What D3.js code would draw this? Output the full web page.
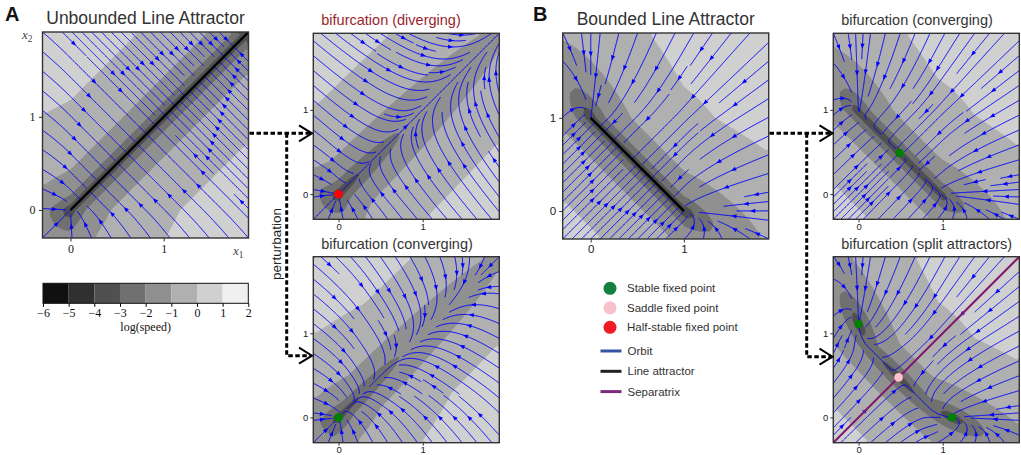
<!DOCTYPE html>
<html lang="en">
<head>
<meta charset="UTF-8">
<title>Line attractors</title>
<script src="https://d3js.org/d3.v7.min.js"></script>
<style>
  body { margin: 0; background: #fff; }
  svg { display: block; }
</style>
</head>
<body>
<div id="wrapper"></div>
<script>
// ---------------- data ----------------
const levels = [-6, -5, -4, -3, -2, -1, 0, 1, 2];
const levelColors = ["#101010", "#303030", "#505050", "#707070", "#909090", "#b0b0b0", "#d0d0d0", "#f0f0f0"];
const axisTicks = [0, 1];
const domain = [-0.3, 1.91];
const timeScale = 0.6;
const logFloor = -3.4;   // coarse grid never resolves the attractor itself

// relu network dx/dt = timeScale * (-x + relu(W x + b))
const wUnbounded = [[0, 1], [1, 0]];
const wDiverging = [[0.22, 1], [1, 0.22]];
const wConvergingA = [[-0.22, 1], [1, -0.22]];
const bZero = [0, 0];
const wBounded = [[0, -1], [-1, 0]];
const wConvergingB = [[-0.05, -1], [-1, -0.05]];
const wSplit = [[0.1, -1.2], [-1.2, 0.1]];
const bOne = [1, 1];

const lineUnbounded = [[0, 0], [1.91, 1.91]];
const lineBounded = [[0, 1], [1, 0]];
const separatrix = [[-0.3, -0.3], [1.91, 1.91]];
const halfStableDiv = [[0, 0]];
const stableConvA = [[0, 0]];
const stableConvB = [[0.488, 0.488]];
const stableSplit = [[0, 1.111], [1.111, 0]];
const saddleSplit = [[0.476, 0.476]];

const legendPoints = [
  { label: "Stable fixed point", color: "#13803f" },
  { label: "Saddle fixed point", color: "#f7c1cb" },
  { label: "Half-stable fixed point", color: "#ee1c25" }
];
const legendLines = [
  { label: "Orbit", color: "#3953a4" },
  { label: "Line attractor", color: "#231f20" },
  { label: "Separatrix", color: "#7b2a7a" }
];

const SANS = "'Liberation Sans', Arial, sans-serif";
const SERIF = "'Liberation Serif', 'DejaVu Serif', serif";

// ---------------- helpers ----------------
const relu = v => Math.max(0, v);
function rnn(W, b) {
  return (x, y) => [
    timeScale * (-x + relu(W[0][0] * x + W[0][1] * y + b[0])),
    timeScale * (-y + relu(W[1][0] * x + W[1][1] * y + b[1]))
  ];
}

// starting points, spiralling in from the border (like matplotlib streamplot)
function spiral(N) {
  const out = [];
  let xfirst = 0, yfirst = 1, xlast = N - 1, ylast = N - 1, x = 0, y = 0, dir = 0;
  for (let i = 0; i < N * N; i++) {
    out.push([x, y]);
    if (dir === 0) { x++; if (x >= xlast) { xlast--; dir = 1; } }
    else if (dir === 1) { y++; if (y >= ylast) { ylast--; dir = 2; } }
    else if (dir === 2) { x--; if (x <= xfirst) { xfirst++; dir = 3; } }
    else { y--; if (y <= yfirst) { yfirst++; dir = 0; } }
  }
  return out;
}

function streamlines(field, density) {
  const N = Math.round(30 * density);
  const mask = new Uint8Array(N * N);
  const span = domain[1] - domain[0];
  let traj = [], cur = -1;
  const cell = (ax, ay) => Math.round(ay * (N - 1)) * N + Math.round(ax * (N - 1));
  function visit(ax, ay) {
    const k = cell(ax, ay);
    if (k === cur) return true;
    if (mask[k]) return false;
    mask[k] = 1; traj.push(k); cur = k;
    return true;
  }
  function dir(ax, ay, sgn) {
    const f = field(domain[0] + ax * span, domain[0] + ay * span);
    const s = Math.hypot(f[0], f[1]);
    if (s < 1e-10) return null;
    return [sgn * f[0] / s, sgn * f[1] / s];
  }
  const h = 0.004, maxLen = 4, minLen = 0.1;
  function trace(ax, ay, sgn) {
    const pts = [[ax, ay]];
    let len = 0;
    while (len < maxLen) {
      const k1 = dir(ax, ay, sgn);
      if (!k1) break;
      const mx = ax + 0.5 * h * k1[0], my = ay + 0.5 * h * k1[1];
      const k2 = (mx >= 0 && mx <= 1 && my >= 0 && my <= 1) ? dir(mx, my, sgn) : k1;
      if (!k2 || k1[0] * k2[0] + k1[1] * k2[1] < 0) break;
      const nx = ax + h * k2[0], ny = ay + h * k2[1];
      if (nx < 0 || nx > 1 || ny < 0 || ny > 1) {
        let t = h;
        if (nx < 0) t = Math.min(t, -ax / k2[0]);
        if (nx > 1) t = Math.min(t, (1 - ax) / k2[0]);
        if (ny < 0) t = Math.min(t, -ay / k2[1]);
        if (ny > 1) t = Math.min(t, (1 - ay) / k2[1]);
        pts.push([ax + t * k2[0], ay + t * k2[1]]);
        len += t;
        break;
      }
      if (!visit(nx, ny)) break;
      ax = nx; ay = ny;
      pts.push([ax, ay]);
      len += h;
    }
    return [len, pts];
  }
  const lines = [];
  for (const [xm, ym] of spiral(N)) {
    if (mask[ym * N + xm]) continue;
    const ax = xm / (N - 1), ay = ym / (N - 1);
    traj = []; cur = -1;
    visit(ax, ay);
    const [lb, pb] = trace(ax, ay, -1);
    cur = cell(ax, ay);
    const [lf, pf] = trace(ax, ay, 1);
    if (lb + lf > minLen) {
      lines.push(pb.reverse().concat(pf.slice(1))
        .map(p => [domain[0] + p[0] * span, domain[0] + p[1] * span]));
    } else {
      traj.forEach(k => mask[k] = 0);
    }
  }
  return lines;
}

// ---------------- figure ----------------
const svg = d3.select("#wrapper").append("svg")
  .attr("width", 1021).attr("height", 455)
  .style("font-family", SANS);

function panel(p) {
  const sx = d3.scaleLinear().domain(domain).range([p.x, p.x + p.size]);
  const sy = d3.scaleLinear().domain(domain).range([p.y + p.size, p.y]);
  svg.append("clipPath").attr("id", "clip-" + p.id)
    .append("rect").attr("x", p.x).attr("y", p.y).attr("width", p.size).attr("height", p.size);
  const g = svg.append("g");
  const inner = g.append("g").attr("clip-path", `url(#clip-${p.id})`);

  // log(speed) background
  const n = 40, step = (domain[1] - domain[0]) / n;
  const vals = new Array(n * n);
  for (let j = 0; j < n; j++) {
    for (let i = 0; i < n; i++) {
      const f = p.field(domain[0] + (i + 0.5) * step, domain[0] + (j + 0.5) * step);
      vals[j * n + i] = Math.max(logFloor, Math.log(Math.hypot(f[0], f[1])));
    }
  }
  const bands = d3.contours().size([n, n]).thresholds(levels.slice(0, -1))(vals);
  const proj = d3.geoTransform({
    point(x, y) { this.stream.point(sx(domain[0] + x * step), sy(domain[0] + y * step)); }
  });
  inner.selectAll("path.band").data(bands).join("path")
    .attr("class", "band")
    .attr("d", d3.geoPath(proj))
    .attr("fill", (d, i) => levelColors[i]);

  // streamlines
  const lines = streamlines(p.field, p.density);
  const line = d3.line().x(d => sx(d[0])).y(d => sy(d[1]));
  inner.selectAll("path.stream").data(lines).join("path")
    .attr("class", "stream")
    .attr("d", line)
    .attr("fill", "none").attr("stroke", "#0000ff").attr("stroke-width", 1);
  const arrows = [];
  lines.forEach(l => {
    if (l.length < 3) return;
    const px = l.map(d => [sx(d[0]), sy(d[1])]);
    let total = 0; const cum = [];
    for (let i = 1; i < px.length; i++) {
      total += Math.hypot(px[i][0] - px[i - 1][0], px[i][1] - px[i - 1][1]);
      cum.push(total);
    }
    const k = Math.min(d3.bisectLeft(cum, total / 2), px.length - 2);
    const a = px[k], b = px[k + 1];
    const ang = Math.atan2(b[1] - a[1], b[0] - a[0]);
    arrows.push({ x: (a[0] + b[0]) / 2, y: (a[1] + b[1]) / 2, ang: ang * 180 / Math.PI });
  });
  inner.selectAll("path.arrow").data(arrows).join("path")
    .attr("class", "arrow")
    .attr("d", "M2.6,0L-2.6,-2.1L-2.6,2.1Z")
    .attr("transform", d => `translate(${d.x},${d.y}) rotate(${d.ang})`)
    .attr("fill", "#0000ff");

  // extra lines and fixed points
  (p.lines || []).forEach(l => {
    inner.append("path").attr("d", d3.line().x(d => sx(d[0])).y(d => sy(d[1]))(l.data))
      .attr("stroke", l.color).attr("stroke-width", l.width).attr("fill", "none");
  });
  (p.points || []).forEach(pt => {
    inner.selectAll(null).data(pt.data).join("circle")
      .attr("cx", d => sx(d[0])).attr("cy", d => sy(d[1])).attr("r", 4.3)
      .attr("fill", pt.color);
  });

  g.append("rect").attr("x", p.x).attr("y", p.y).attr("width", p.size).attr("height", p.size)
    .attr("fill", "none").attr("stroke", "#333").attr("stroke-width", 1.4);

  // axes
  const fmt = d => String(d);
  const ax = g.append("g").attr("transform", `translate(0,${p.y + p.size})`)
    .call(d3.axisBottom(sx).tickValues(axisTicks).tickSize(p.tick).tickPadding(p.pad).tickFormat(fmt));
  const ay = g.append("g").attr("transform", `translate(${p.x},0)`)
    .call(d3.axisLeft(sy).tickValues(axisTicks).tickSize(p.tick).tickPadding(p.pad + 1).tickFormat(fmt));
  [ax, ay].forEach(a => {
    a.select(".domain").remove();
    a.selectAll("line").attr("stroke", "#333");
    a.selectAll("text").attr("fill", "#222")
      .style("font-family", p.serif ? SERIF : SANS)
      .style("font-size", p.tickSize + "px");
  });

  // title
  if (p.title) {
    g.append("text")
      .attr("x", p.titleAnchor === "middle" ? p.x + p.size / 2 : p.x + 8)
      .attr("y", p.y - 8)
      .attr("text-anchor", p.titleAnchor || "start")
      .attr("fill", p.titleColor || "#333")
      .style("font-size", p.titleSize + "px")
      .text(p.title);
  }
}

const panels = [
  { id: "A", x: 42.5, y: 32, size: 206, field: rnn(wUnbounded, bZero), density: 0.72,
    serif: true, tickSize: 12, tick: 3.5, pad: 2.5,
    title: "Unbounded Line Attractor", titleAnchor: "middle", titleSize: 17.5,
    lines: [{ data: lineUnbounded, color: "#000", width: 2.4 }] },
  { id: "Adiv", x: 313.3, y: 33.3, size: 186, field: rnn(wDiverging, bZero), density: 0.85,
    tickSize: 9.5, tick: 3, pad: 1,
    title: "bifurcation (diverging)", titleSize: 14.5, titleColor: "#9a1f2b",
    points: [{ data: halfStableDiv, color: "#ff0000" }] },
  { id: "Aconv", x: 313.3, y: 256.7, size: 186, field: rnn(wConvergingA, bZero), density: 0.85,
    tickSize: 9.5, tick: 3, pad: 1,
    title: "bifurcation (converging)", titleSize: 14.5,
    points: [{ data: stableConvA, color: "#008000" }] },
  { id: "B", x: 562.7, y: 33, size: 206, field: rnn(wBounded, bOne), density: 0.75,
    tickSize: 11.5, tick: 3.5, pad: 2,
    title: "Bounded Line Attractor", titleAnchor: "middle", titleSize: 17.5,
    lines: [{ data: lineBounded, color: "#000", width: 2.6 }] },
  { id: "Bconv", x: 833.3, y: 33.3, size: 186, field: rnn(wConvergingB, bOne), density: 0.85,
    tickSize: 9.5, tick: 3, pad: 1,
    title: "bifurcation (converging)", titleSize: 14.5,
    points: [{ data: stableConvB, color: "#008000" }] },
  { id: "Bsplit", x: 833.3, y: 256.7, size: 186, field: rnn(wSplit, bOne), density: 0.85,
    tickSize: 9.5, tick: 3, pad: 1,
    title: "bifurcation (split attractors)", titleSize: 14.5,
    lines: [{ data: separatrix, color: "#801a6e", width: 2 }],
    points: [{ data: stableSplit, color: "#008000" }, { data: saddleSplit, color: "#ffc0cb" }] }
];
panels.forEach(panel);

// panel letters
svg.append("text").attr("x", 5).attr("y", 21).text("A")
  .style("font-size", "20px").style("font-weight", "900").attr("fill", "#111");
svg.append("text").attr("x", 533).attr("y", 21).text("B")
  .style("font-size", "20px").style("font-weight", "900").attr("fill", "#111");

// axis variable labels of panel A
const xl = svg.append("text").attr("x", 233).attr("y", 254.5)
  .style("font-family", SERIF).style("font-size", "13px").attr("fill", "#444");
xl.append("tspan").style("font-style", "italic").text("x");
xl.append("tspan").attr("dy", 3).style("font-size", "9.5px").text("1");
const yl = svg.append("text").attr("x", 22).attr("y", 39)
  .style("font-family", SERIF).style("font-size", "13px").attr("fill", "#444");
yl.append("tspan").style("font-style", "italic").text("x");
yl.append("tspan").attr("dy", 3).style("font-size", "9.5px").text("2");

// colorbar
const cb = d3.scaleLinear().domain([levels[0], levels[levels.length - 1]]).range([43, 248.3]);
const cbg = svg.append("g");
cbg.selectAll("rect.bin").data(levelColors).join("rect")
  .attr("class", "bin")
  .attr("x", (d, i) => cb(levels[i])).attr("y", 283.3)
  .attr("width", (d, i) => cb(levels[i + 1]) - cb(levels[i])).attr("height", 20)
  .attr("fill", d => d);
cbg.append("rect").attr("x", cb(levels[0])).attr("y", 283.3)
  .attr("width", cb(levels[levels.length - 1]) - cb(levels[0])).attr("height", 20)
  .attr("fill", "none").attr("stroke", "#111").attr("stroke-width", 1);
const cbAxis = cbg.append("g").attr("transform", "translate(0,303.3)")
  .call(d3.axisBottom(cb).tickValues(levels).tickSize(3.5).tickPadding(1.5)
    .tickFormat(d => d < 0 ? "\u2212" + Math.abs(d) : String(d)));
cbAxis.select(".domain").remove();
cbAxis.selectAll("text").style("font-family", SERIF).style("font-size", "12px").attr("fill", "#111");
cbg.append("text").attr("x", (cb(levels[0]) + cb(levels[levels.length - 1])) / 2).attr("y", 331)
  .attr("text-anchor", "middle").style("font-family", SERIF).style("font-size", "12px")
  .attr("fill", "#111").text("log(speed)");

// perturbation connectors
function connector(x0, xv, xEnd, yTop, yBot) {
  const c = svg.append("g").attr("fill", "none").attr("stroke", "#000");
  c.append("path").attr("d", `M${x0},${yTop}H${xEnd - 1}M${xv},${yTop}V${yBot}H${xEnd - 1}`)
    .attr("stroke-width", 3).attr("stroke-dasharray", "4.5,2.5");
  [yTop, yBot].forEach(y => {
    c.append("path").attr("d", `M${xEnd - 13},${y - 8}L${xEnd},${y}L${xEnd - 13},${y + 8}`)
      .attr("stroke-width", 2);
  });
}
connector(249.5, 286.7, 312, 133.3, 355.7);
connector(769.5, 806.7, 832.5, 133.3, 356.7);

svg.append("text").attr("transform", "translate(281,244) rotate(-90)")
  .attr("text-anchor", "middle").style("font-size", "13.5px").attr("fill", "#222")
  .text("perturbation");

// legend
const lg = svg.append("g").style("font-size", "11.5px");
legendPoints.forEach((d, i) => {
  const y = 288.3 + i * 19.5;
  lg.append("circle").attr("cx", 610).attr("cy", y).attr("r", 6.5).attr("fill", d.color);
  lg.append("text").attr("x", 627).attr("y", y + 4).attr("fill", "#333").text(d.label);
});
legendLines.forEach((d, i) => {
  const y = 351 + i * 20.3;
  lg.append("line").attr("x1", 600.5).attr("x2", 621.5).attr("y1", y).attr("y2", y)
    .attr("stroke", d.color).attr("stroke-width", 3);
  lg.append("text").attr("x", 627.5).attr("y", y + 4).attr("fill", "#333").text(d.label);
});
</script>
</body>
</html>
